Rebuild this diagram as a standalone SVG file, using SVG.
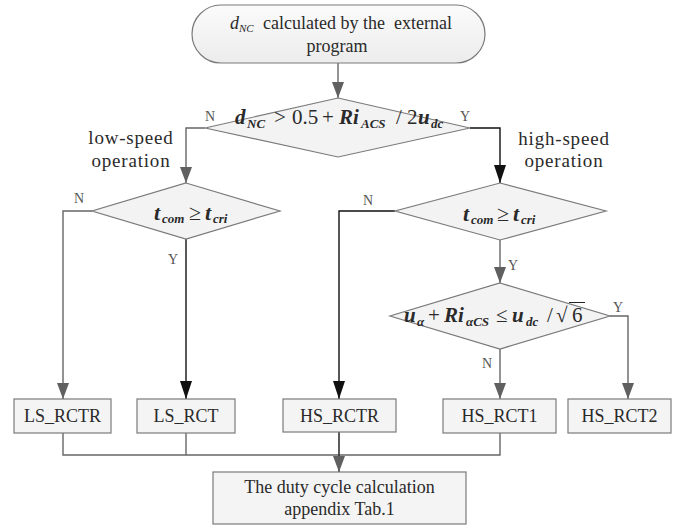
<svg xmlns="http://www.w3.org/2000/svg" width="688" height="525" viewBox="0 0 688 525">
<defs>
<linearGradient id="gterm" x1="0" y1="0" x2="0" y2="1"><stop offset="0" stop-color="#fbfbfb"/><stop offset="1" stop-color="#ececec"/></linearGradient>
<marker id="ag" markerUnits="userSpaceOnUse" markerWidth="16" markerHeight="12" refX="16" refY="6" orient="auto"><path d="M0,0 L16,6 L0,12 z" fill="#606060"/></marker>
<marker id="ab" markerUnits="userSpaceOnUse" markerWidth="18" markerHeight="12" refX="18" refY="6" orient="auto"><path d="M0,0 L18,6 L0,12 z" fill="#111"/></marker>
</defs>
<style>
.shape{fill:#f3f3f3;stroke:#7a7a7a;stroke-width:1.2}
.box{fill:#f4f4f4;stroke:#7a7a7a;stroke-width:1.2}
.cg{fill:none;stroke:#666;stroke-width:1.4}
.cb{fill:none;stroke:#111;stroke-width:1.4}
text{font-family:"Liberation Serif","Times New Roman",serif;fill:#2a2a2a}
.t{font-size:18px}
.lab{font-size:14px;fill:#555}
.op{font-size:19px;letter-spacing:0.8px}
.v{font-weight:bold;font-style:italic}
.s{font-size:13px;font-weight:bold;font-style:italic}
.m{font-size:21px}
.mt{font-size:22px}
</style>

<g id="connectors">
<path class="cg" d="M338,63 V98" marker-end="url(#ag)"/>
<path class="cg" d="M205,128 H186 V183" marker-end="url(#ag)"/>
<path class="cb" d="M470,128 H500 V183" marker-end="url(#ab)"/>
<path class="cg" d="M92,211 H63 V399" marker-end="url(#ag)"/>
<path class="cb" d="M186,239 V399" marker-end="url(#ab)"/>
<path class="cb" d="M395,211 H339 V399" marker-end="url(#ab)"/>
<path class="cg" d="M500,240 V283" marker-end="url(#ag)"/>
<path class="cg" d="M610,316 H628 V399" marker-end="url(#ag)"/>
<path class="cg" d="M500,349 V399" marker-end="url(#ag)"/>
<path class="cg" d="M63,433 V455 H500 V433"/>
<path class="cg" d="M186,433 V455"/>
<path fill="none" stroke="#333" stroke-width="1.6" d="M339,432 V472" marker-end="url(#ag)"/>
<text class="lab" x="210" y="121" text-anchor="middle">N</text>
<text class="lab" x="465" y="121" text-anchor="middle">Y</text>
<text class="lab" x="79" y="203" text-anchor="middle">N</text>
<text class="lab" x="173" y="264" text-anchor="middle">Y</text>
<text class="lab" x="368" y="205" text-anchor="middle">N</text>
<text class="lab" x="513" y="270" text-anchor="middle">Y</text>
<text class="lab" x="618" y="312" text-anchor="middle">Y</text>
<text class="lab" x="487" y="368" text-anchor="middle">N</text>
<text class="op" x="131" y="144" text-anchor="middle">low-speed</text>
<text class="op" x="131" y="167" text-anchor="middle">operation</text>
<text class="op" x="564" y="145" text-anchor="middle">high-speed</text>
<text class="op" x="564" y="167" text-anchor="middle">operation</text>
</g>

<g id="start">
<rect x="192" y="5" width="293" height="58" rx="29" ry="29" fill="url(#gterm)" stroke="#7a7a7a" stroke-width="1.2"/>
<text class="t" x="230" y="29"><tspan font-style="italic">d</tspan><tspan font-style="italic" font-size="11px" dy="3">NC</tspan><tspan x="263" dy="-3">calculated by the&#160; external</tspan></text>
<text class="t" x="337" y="52" text-anchor="middle">program</text>
</g>

<g id="d1">
<polygon class="shape" points="338,98 470,128 338,157 205,128"/>
<text class="m" y="124"><tspan class="v" x="235">d</tspan><tspan class="s" x="247" dy="4">NC</tspan><tspan x="274" dy="-4">&gt;</tspan><tspan x="292">0.5</tspan><tspan x="322">+</tspan><tspan class="v" x="339">Ri</tspan><tspan class="s" x="361" dy="4">ACS</tspan><tspan x="396" dy="-4">/</tspan><tspan x="407">2</tspan><tspan class="v" x="418">u</tspan><tspan class="s" x="431" dy="4">dc</tspan></text>
</g>

<g id="d2">
<polygon class="shape" points="186,183 280,211 186,239 92,211"/>
<text class="mt" y="220"><tspan class="v" x="154">t</tspan><tspan class="s" x="162" dy="3">com</tspan><tspan x="189" dy="-3">≥</tspan><tspan class="v" x="205">t</tspan><tspan class="s" x="213" dy="3">cri</tspan></text>
</g>

<g id="d3">
<polygon class="shape" points="500,183 606,211 500,240 395,211"/>
<text class="mt" y="221"><tspan class="v" x="463">t</tspan><tspan class="s" x="471" dy="3">com</tspan><tspan x="497" dy="-3">≥</tspan><tspan class="v" x="513">t</tspan><tspan class="s" x="521" dy="3">cri</tspan></text>
</g>

<g id="d4">
<polygon class="shape" points="500,283 610,316 500,349 390,316"/>
<text class="m" y="322"><tspan class="v" x="404">u</tspan><tspan class="s" font-size="12px" x="417" dy="4">α</tspan><tspan x="428" dy="-4">+</tspan><tspan class="v" x="444">Ri</tspan><tspan class="s" x="466" dy="4">αCS</tspan><tspan x="496" dy="-4">≤</tspan><tspan class="v" x="512">u</tspan><tspan class="s" x="526" dy="4">dc</tspan><tspan x="547" dy="-4">/</tspan><tspan x="556">√</tspan><tspan x="572">6</tspan></text>
<line x1="569" y1="302.5" x2="585" y2="302.5" stroke="#222" stroke-width="1"/>
</g>

<g id="ls_rctr">
<rect class="box" x="14" y="399" width="97" height="34"/>
<text class="t" x="62.5" y="422" text-anchor="middle">LS_RCTR</text>
</g>
<g id="ls_rct">
<rect class="box" x="137" y="399" width="98" height="34"/>
<text class="t" x="186" y="422" text-anchor="middle">LS_RCT</text>
</g>
<g id="hs_rctr">
<rect class="box" x="283" y="399" width="113" height="33"/>
<text class="t" x="339.5" y="422" text-anchor="middle">HS_RCTR</text>
</g>
<g id="hs_rct1">
<rect class="box" x="443" y="399" width="113" height="34"/>
<text class="t" x="499.5" y="422" text-anchor="middle">HS_RCT1</text>
</g>
<g id="hs_rct2">
<rect class="box" x="568" y="399" width="103" height="34"/>
<text class="t" x="619.5" y="422" text-anchor="middle">HS_RCT2</text>
</g>
<g id="duty">
<rect class="box" x="213" y="472" width="253" height="52"/>
<text class="t" x="339.5" y="493" text-anchor="middle">The duty cycle calculation</text>
<text class="t" x="339.5" y="515" text-anchor="middle">appendix Tab.1</text>
</g>
</svg>
